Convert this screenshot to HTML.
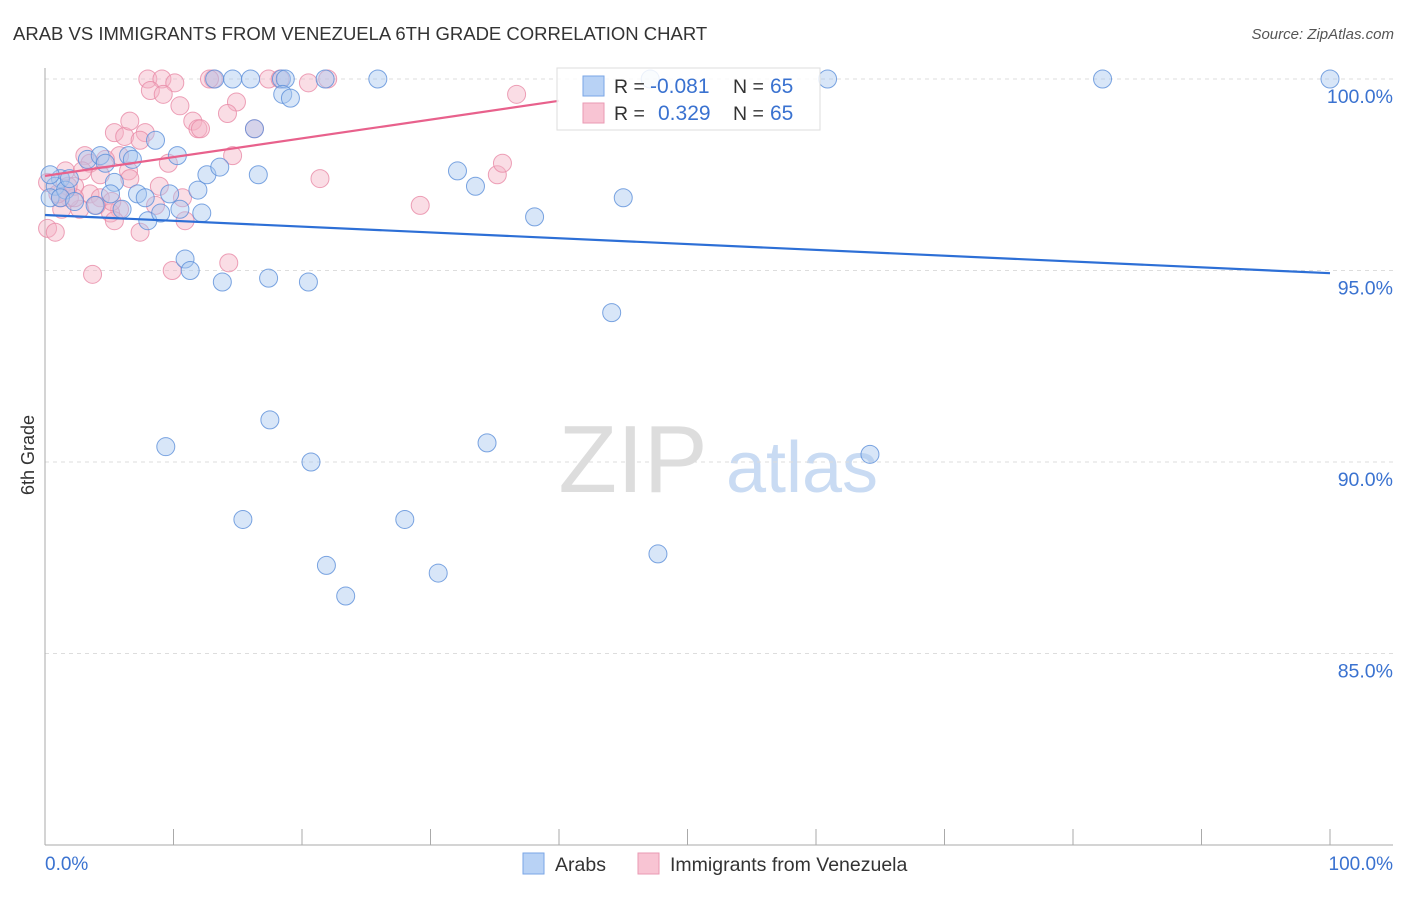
<!DOCTYPE html>
<html><head><meta charset="utf-8"><style>
body{margin:0;background:#fff;font-family:"Liberation Sans",sans-serif}
svg text{font-family:"Liberation Sans",sans-serif}
</style></head><body>
<svg id="c" width="1406" height="892" xmlns="http://www.w3.org/2000/svg">
<text x="13" y="40" font-size="18.5" fill="#333">ARAB VS IMMIGRANTS FROM VENEZUELA 6TH GRADE CORRELATION CHART</text>
<text x="1394" y="39" font-size="15" fill="#555" font-style="italic" text-anchor="end">Source: ZipAtlas.com</text>
<text x="34" y="455" font-size="18" fill="#333" text-anchor="middle" transform="rotate(-90 34 455)">6th Grade</text>
<g>
<text x="633" y="492" font-size="96" fill="#ddd" font-family="Liberation Serif,serif" text-anchor="middle">ZIP</text>
<text x="802" y="492" font-size="72" fill="#c9dbf3" text-anchor="middle">atlas</text>
</g>
<g id="grid"></g>
<g id="axes"></g>
<g id="pts"></g>
<g id="lines"></g>
<g>
<rect x="557" y="68" width="263" height="62" fill="#fff" fill-opacity="0.85" stroke="#ddd"/>
<rect x="583" y="76" width="21" height="20" fill="#b8d2f5" stroke="#7aa6e6"/>
<rect x="583" y="103" width="21" height="20" fill="#f8c4d3" stroke="#ea9ab3"/>
<text x="614" y="93" font-size="19.5" fill="#333">R =</text>
<text x="650" y="93" font-size="21" fill="#3a72d0">-0.081</text>
<text x="733" y="93" font-size="19.5" fill="#333">N =</text>
<text x="770" y="93" font-size="21" fill="#3a72d0">65</text>
<text x="614" y="120" font-size="19.5" fill="#333">R =</text>
<text x="658" y="120" font-size="21" fill="#3a72d0">0.329</text>
<text x="733" y="120" font-size="19.5" fill="#333">N =</text>
<text x="770" y="120" font-size="21" fill="#3a72d0">65</text>
</g>
<g>
<rect x="523" y="853" width="21" height="21" fill="#b8d2f5" stroke="#7aa6e6"/>
<text x="555" y="871" font-size="19.5" fill="#333">Arabs</text>
<rect x="638" y="853" width="21" height="21" fill="#f8c4d3" stroke="#ea9ab3"/>
<text x="670" y="871" font-size="19.5" fill="#333">Immigrants from Venezuela</text>
</g>
</svg>
<script>
const yTicks=[100,95,90,85];
const yTickLabels=["100.0%","95.0%","90.0%","85.0%"];
const xTicks=[0,10,20,30,40,50,60,70,80,90,100];
const xTickLabels=["0.0%","100.0%"];
const arabsX=[1.2,0.8,0.4,1.6,1.9,3.3,4.3,4.7,5.4,3.9,5.1,6.0,6.5,6.8,7.2,7.8,8.0,8.6,9.0,9.7,10.3,10.5,10.9,11.3,11.9,12.2,12.6,13.6,13.8,13.2,14.6,16.0,16.3,16.6,17.4,18.4,18.7,18.5,19.1,20.5,21.8,25.9,32.1,33.5,38.1,45.0,44.1,47.1,60.9,82.3,100,9.4,17.5,20.7,15.4,28.0,21.9,23.4,30.6,34.4,47.7,64.2,1.2,2.3,0.4];
const arabsY=[97.4,97.2,96.9,97.1,97.4,97.9,98.0,97.8,97.3,96.7,97.0,96.6,98.0,97.9,97.0,96.9,96.3,98.4,96.5,97.0,98.0,96.6,95.3,95.0,97.1,96.5,97.5,97.7,94.7,100,100,100,98.7,97.5,94.8,100,100,99.6,99.5,94.7,100,100,97.6,97.2,96.4,96.9,93.9,100,100,100,100,90.4,91.1,90.0,88.5,88.5,87.3,86.5,87.1,90.5,87.6,90.2,96.9,96.8,97.5];
const venX=[8.0,9.1,10.1,8.2,9.2,10.5,11.5,13.1,12.8,17.4,18.3,20.5,22.0,14.9,14.2,11.9,5.4,6.2,7.8,6.6,7.4,5.8,4.7,3.1,3.5,4.3,6.5,9.6,8.9,8.6,5.8,5.1,2.7,1.9,1.3,0.2,0.8,2.3,1.6,14.6,16.3,12.1,10.9,10.7,7.4,3.7,9.9,14.3,21.4,29.2,35.2,35.6,36.7,3.5,1.2,0.2,4.3,5.2,6.6,4.0,2.9,5.4,2.3,1.8,1.0];
const venY=[100,100,99.9,99.7,99.6,99.3,98.9,100,100,100,100,99.9,100,99.4,99.1,98.7,98.6,98.5,98.6,98.9,98.4,98.0,97.9,98.0,97.8,97.5,97.6,97.8,97.2,96.7,96.6,96.5,96.6,96.9,96.6,96.1,96.0,97.2,97.6,98.0,98.7,98.7,96.3,96.9,96.0,94.9,95.0,95.2,97.4,96.7,97.5,97.8,99.6,97.0,96.9,97.3,96.9,96.8,97.4,96.7,97.6,96.3,96.9,97.2,97.0];
const arabsLine=[96.45,94.93];
const venLine=[97.47,99.43,40];
const NS="http://www.w3.org/2000/svg";
function sx(v){return 45+v*12.85;}
function sy(v){return 79+(100-v)*38.3;}
function mk(t,a,p){const e=document.createElementNS(NS,t);for(const k in a)e.setAttribute(k,a[k]);p.appendChild(e);return e;}
const grid=document.getElementById('grid'),axes=document.getElementById('axes'),pts=document.getElementById('pts'),lines=document.getElementById('lines');
yTicks.forEach((v,i)=>{
const g=mk('line',{x1:45,x2:1393,y1:sy(v),y2:sy(v),stroke:'#ddd','stroke-dasharray':'4,4'},grid);


const t=mk('text',{x:1393,y:sy(v)+24,'font-size':19.5,fill:'#3a72d0','text-anchor':'end'},axes);
t.textContent=yTickLabels[i];


});
const xa=mk('line',{x1:45,x2:1393,y1:845,y2:845,stroke:'#aaa'},axes);


const ya=mk('line',{x1:45,x2:45,y1:68,y2:845,stroke:'#aaa'},axes);


xTicks.forEach(v=>{
const l=mk('line',{x1:sx(v),x2:sx(v),y1:829,y2:845,stroke:'#aaa'},axes);


});
const xl0=mk('text',{x:45,y:870,'font-size':19,fill:'#3a72d0'},axes);
xl0.textContent=xTickLabels[0];


const xl1=mk('text',{x:1393,y:870,'font-size':19,fill:'#3a72d0','text-anchor':'end'},axes);
xl1.textContent=xTickLabels[1];


function series(X,Y,fill,stroke,name){X.forEach((x,i)=>{
const c=mk('circle',{cx:sx(x),cy:sy(Y[i]),r:9,fill:fill,'fill-opacity':0.45,stroke:stroke,'stroke-opacity':0.8,'stroke-width':1},pts);


});}
series(venX,venY,'#f5b3c6','#e88aa6','venezuela-point');
series(arabsX,arabsY,'#a9c8f0','#5b8fd9','arabs-point');
const bl=mk('line',{x1:sx(0),y1:sy(arabsLine[0]),x2:sx(100),y2:sy(arabsLine[1]),stroke:'#2d6fd6','stroke-width':2.2},lines);


const pl=mk('line',{x1:sx(0),y1:sy(venLine[0]),x2:sx(venLine[2]),y2:sy(venLine[1]),stroke:'#e8618c','stroke-width':2.2},lines);


</script>
</body></html>
